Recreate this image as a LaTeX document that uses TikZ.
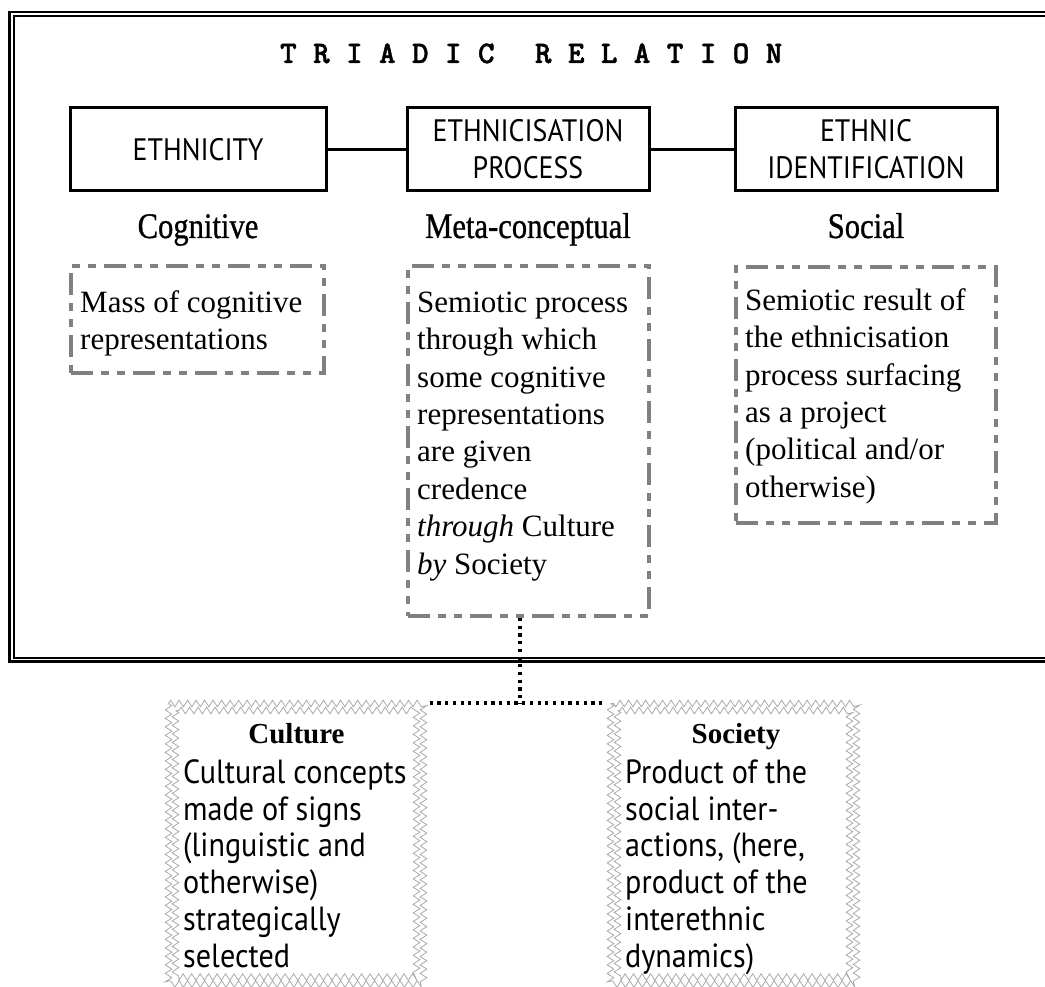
\documentclass[tikz,border=0pt]{standalone}
\usepackage{fontspec}
\setmainfont{Liberation Serif}
\newfontfamily\sansf[FakeStretch=0.9]{PT Sans}
\newfontfamily\headf[FakeStretch=0.85,FakeBold=0.8]{Liberation Serif}
\newfontfamily\monof[FakeBold=1.5]{lmmonolt10-bold.otf}
\usetikzlibrary{decorations.pathmorphing}
\definecolor{dgray}{RGB}{128,128,128}
\definecolor{zgray}{RGB}{170,170,170}
\tikzset{
  topbox/.style={draw=black, line width=3pt, inner sep=0pt, minimum height=83pt, align=center,
                 font=\sansf\fontsize{31pt}{37pt}\selectfont},
  dbox/.style={draw=dgray, line width=4pt, dash pattern=on 22pt off 8pt on 8pt off 8pt on 8pt off 8pt, inner sep=0pt},
  sertext/.style={inner sep=0pt, anchor=north west, align=left, font=\fontsize{31pt}{37.4pt}\selectfont},
  santext/.style={inner sep=0pt, anchor=north west, align=left, font=\sansf\fontsize{33.5pt}{36.8pt}\selectfont},
  heading/.style={inner sep=0pt, anchor=base, font=\headf\fontsize{36pt}{40pt}\selectfont},
  bhead/.style={inner sep=0pt, anchor=base, font=\bfseries\fontsize{29pt}{34pt}\selectfont},
  link/.style={line width=3pt},
  dotlink/.style={line width=3.8pt, dash pattern=on 3.2pt off 4.5pt},
  zig/.style={draw=zgray, line width=0.8pt, decorate, decoration={zigzag, segment length=8.5pt, amplitude=3.3pt}},
  hold/.style={inner sep=0pt, draw=none}
}
\begin{document}
\begin{tikzpicture}[x=1pt,y=-1pt]
\useasboundingbox (0,0) rectangle (1045,987);
% outer double frame
\draw[line width=2.5pt] (9.5,12) rectangle (1070,661.5);
\draw[line width=2pt] (14,16) rectangle (1070,657.8);
% title
\node[anchor=base west, inner sep=0pt, font=\monof\fontsize{31.4pt}{34pt}\selectfont] (title) at (280,63)
  {T R I A D I C\hspace{40.5pt}R E L A T I O N};
% top boxes
\node[topbox, minimum width=256pt] (b1) at (198,149.5) {ETHNICITY};
\node[topbox, minimum width=242pt] (b2) at (528,149.5) {ETHNICISATION\\PROCESS};
\node[topbox, minimum width=262pt] (b3) at (866,149.5) {ETHNIC\\IDENTIFICATION};
\draw[link] (b1.east) -- (b2.west);
\draw[link] (b2.east) -- (b3.west);
% headings
\node[heading] (h1) at (198,238) {Cognitive};
\node[heading] (h2) at (528,238) {Meta-conceptual};
\node[heading] (h3) at (866,238) {Social};
% dashed boxes
\node[dbox, minimum width=253pt, minimum height=107pt] (bA) at (197.5,319.5) {};
\node[dbox, minimum width=241pt, minimum height=350pt] (bB) at (528.5,441) {};
\node[dbox, minimum width=260pt, minimum height=256pt] (bC) at (866,395) {};
\node[sertext] (tA) at (80,284) {\rule{0pt}{28pt}Mass of cognitive\\representations};
\node[sertext] (tB) at (417,284) {\rule{0pt}{28pt}Semiotic process\\through which\\some cognitive\\representations\\are given\\credence\\\textit{through} Culture\\\textit{by} Society};
\node[sertext] (tC) at (745,282) {\rule{0pt}{28pt}Semiotic result of\\the ethnicisation\\process surfacing\\as a project\\(political and/or\\otherwise)};
% bottom zigzag boxes
\node[hold, minimum width=255pt, minimum height=280.5pt] (cult) at (296,843.75) {};
\node[hold, minimum width=246pt, minimum height=280.5pt] (soc) at (733.5,843.75) {};
\draw[zig] (168.5,703.5) rectangle (423.5,984);
\draw[zig] (175.5,710.5) rectangle (416.5,977);
\draw[zig] (610.5,703.5) rectangle (856.5,984);
\draw[zig] (617.5,710.5) rectangle (849.5,977);
\node[bhead] (hc) at (296.5,743) {Culture};
\node[bhead] (hs) at (736,743) {Society};
\node[santext] (tc) at (183,754) {\rule{0pt}{29pt}Cultural concepts\\made of signs\\(linguistic and\\otherwise)\\strategically\\selected};
\node[santext] (ts) at (625,754) {\rule{0pt}{29pt}Product of the\\social inter-\\actions, (here,\\product of the\\interethnic\\dynamics)};
% dotted connectors
\coordinate (j) at (520,703);
\draw[dotlink] (bB.south -| j) -- (j);
\draw[dotlink, shorten <=6pt, shorten >=7pt] (cult.east |- j) -- (soc.west |- j);
\end{tikzpicture}
\end{document}
